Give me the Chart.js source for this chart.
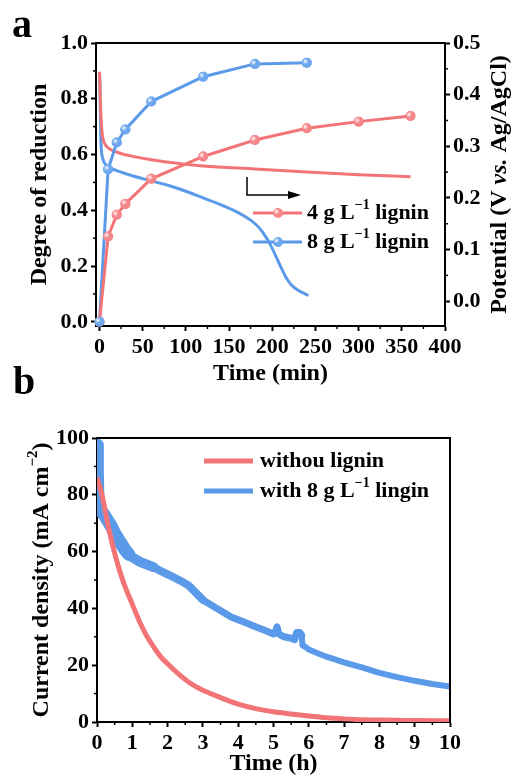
<!DOCTYPE html>
<html>
<head>
<meta charset="utf-8">
<script src="https://cdn.jsdelivr.net/npm/chart.js@4.4.0/dist/chart.umd.min.js"></script>
<style>
body { margin: 0; background: #fff; width: 512px; height: 778px; overflow: hidden; position: relative; }
canvas { position: absolute; left: 0; }
#chartA { top: 0; }
#chartB { top: 355px; }
</style>
</head>
<body>
<canvas id="chartA" width="512" height="390"></canvas>
<canvas id="chartB" width="512" height="423"></canvas>
<script>
// ---- Panel a: degree of reduction (left axis, markers) ----
const sampleTime4 = [0, 10, 20, 30, 60, 120, 180, 240, 300, 360];
const reduction4 = [0, 0.306, 0.384, 0.423, 0.513, 0.593, 0.652, 0.694, 0.718, 0.738];
const sampleTime8 = [0, 10, 20, 30, 60, 120, 180, 240];
const reduction8 = [0, 0.547, 0.643, 0.69, 0.79, 0.879, 0.925, 0.929];

// ---- Panel a: potential (right axis, plain lines) ----
const potTime4 = [0, 0.5, 1, 2, 3, 4, 6, 10, 15, 25, 40, 60, 90, 120, 180, 240, 300, 360];
const potential4 = [0.444, 0.42, 0.39, 0.35, 0.328, 0.315, 0.305, 0.297, 0.292, 0.286, 0.28, 0.274, 0.267, 0.262, 0.256, 0.25, 0.245, 0.241];
const potTime8 = [0, 0.5, 1, 1.5, 2.5, 4, 6, 10, 20, 40, 60, 80, 100, 120, 140, 160, 175, 185, 192, 198, 204, 210, 216, 222, 230, 242];
const potential8 = [0.444, 0.42, 0.37, 0.32, 0.288, 0.275, 0.267, 0.26, 0.253, 0.242, 0.233, 0.224, 0.213, 0.2, 0.187, 0.172, 0.157, 0.142, 0.126, 0.109, 0.088, 0.066, 0.046, 0.032, 0.021, 0.011];

const timeTicksMin = [0, 50, 100, 150, 200, 250, 300, 350, 400];
const reductionTicks = [0, 0.2, 0.4, 0.6, 0.8, 1.0];
const potentialTicks = [0, 0.1, 0.2, 0.3, 0.4, 0.5];

// ---- Panel b: current density ----
const curTimeNo = [0, 0.1, 0.2, 0.3, 0.4, 0.5, 0.6, 0.7, 0.8, 1.0, 1.2, 1.4, 1.6, 1.8, 2.0, 2.3, 2.6, 2.9, 3.5, 4.0, 4.5, 5.0, 5.5, 6.0, 6.5, 7.0, 7.5, 8.0, 8.5, 9.0, 10.0];
const currentNo = [86, 82, 76.5, 70, 64.5, 59.5, 55, 51, 47.5, 41.5, 35.5, 30.5, 26.5, 23, 20.5, 17, 14, 11.8, 8.6, 6.3, 4.7, 3.6, 2.8, 2.1, 1.5, 1.1, 0.8, 0.7, 0.6, 0.5, 0.4];
const curTimeLig = [0, 0.01, 0.03, 0.1, 0.2, 0.3, 0.4, 0.5, 0.6, 0.7, 0.8, 0.9, 1.0, 1.2, 1.4, 1.6, 1.8, 2.0, 2.2, 2.4, 2.6, 2.8, 3.0, 3.2, 3.4, 3.6, 3.8, 4.0, 4.2, 4.4, 4.6, 4.8, 5.0, 5.05, 5.1, 5.15, 5.3, 5.5, 5.6, 5.65, 5.75, 5.8, 5.82, 5.9, 6.0, 6.2, 6.5, 7.0, 7.5, 8.0, 8.5, 9.0, 9.5, 10.0];
const currentLig = [97.5, 88, 76, 74.5, 73, 71, 69, 66.5, 64.5, 62.5, 60.5, 59, 58, 56.5, 55.5, 54.5, 53.2, 52, 50.8, 49.5, 48, 45.5, 43, 41.5, 40, 38.5, 37, 36, 35, 34, 33, 32, 31, 31.5, 33.5, 31, 30, 29.5, 29, 31.5, 31.5, 30.5, 27, 26.5, 25.5, 24.5, 23, 21, 19.2, 17.3, 15.8, 14.5, 13.4, 12.5];

const timeTicksH = [0, 1, 2, 3, 4, 5, 6, 7, 8, 9, 10];
const currentTicks = [0, 20, 40, 60, 80, 100];

// ---- styling ----
const FONT = '"Liberation Serif", "Times New Roman", serif';
const RED = '#f27476';
const BLUE = '#5a9ae9';
const RED_PT = '#f5878a';
const BLUE_PT = '#6ea7ee';
const TICK_SIZE = 22;
const TITLE_SIZE = 24;
const LEGEND_SIZE = 22;

const pts = (xs, ys) => xs.map((x, i) => ({ x: x, y: ys[i] }));
const mids = arr => arr.slice(1).map((v, i) => (v + arr[i]) / 2);

function axis(opts) {
    return Object.assign({
        type: 'linear',
        grid: { drawOnChartArea: false, drawTicks: true, tickLength: 5, tickWidth: 2, tickColor: '#000' },
        border: { display: true, color: '#000', width: 2 },
        ticks: { color: '#000', padding: 3, font: { family: FONT, size: TICK_SIZE, weight: 'bold' } }
    }, opts);
}

// Bold serif text with italic parts and superscripts
function richText(ctx, parts, x, y, size, rotate, align) {
    const fontFor = k => (k === 'i' ? 'italic bold ' : 'bold ') +
        (k === 's' ? Math.round(size * 0.62) : size) + 'px ' + FONT;
    ctx.save();
    ctx.translate(x, y);
    if (rotate) ctx.rotate(rotate);
    let total = 0;
    parts.forEach(([t, k]) => { ctx.font = fontFor(k); total += ctx.measureText(t).width; });
    let cx = align === 'left' ? 0 : -total / 2;
    ctx.textBaseline = 'middle';
    ctx.textAlign = 'left';
    ctx.fillStyle = '#000';
    parts.forEach(([t, k]) => {
        ctx.font = fontFor(k);
        ctx.fillText(t, cx, k === 's' ? -size * 0.36 : 0);
        cx += ctx.measureText(t).width;
    });
    ctx.restore();
}

function ballMarker(ctx, x, y, r, fill) {
    ctx.save();
    ctx.fillStyle = fill;
    ctx.beginPath();
    ctx.arc(x, y, r, 0, Math.PI * 2);
    ctx.fill();
    const g = ctx.createRadialGradient(x - 1.5, y - 1.5, 0, x - 1.5, y - 1.5, 3);
    g.addColorStop(0, 'rgba(255,255,255,0.95)');
    g.addColorStop(1, 'rgba(255,255,255,0)');
    ctx.fillStyle = g;
    ctx.beginPath();
    ctx.arc(x, y, r, 0, Math.PI * 2);
    ctx.fill();
    ctx.restore();
}

// minor ticks, frame, marker highlights
const decor = {
    id: 'decor',
    afterDatasetsDraw(chart) {
        chart.data.datasets.forEach((ds, i) => {
            if (!ds.pointRadius) return;
            chart.getDatasetMeta(i).data.forEach(p => {
                ballMarker(chart.ctx, p.x, p.y, ds.pointRadius, ds.pointBackgroundColor);
            });
        });
    },
    afterDraw(chart, args, opts) {
        const ctx = chart.ctx;
        const ca = chart.chartArea;
        ctx.save();
        ctx.strokeStyle = '#000';
        ctx.lineWidth = 2;
        ctx.beginPath();
        ctx.moveTo(ca.left, ca.top);
        ctx.lineTo(ca.right, ca.top);
        ctx.lineTo(ca.right, ca.bottom);
        ctx.stroke();
        ctx.lineWidth = 1.5;
        (opts.minor || []).forEach(([id, values]) => {
            const s = chart.scales[id];
            values.forEach(v => {
                const p = s.getPixelForValue(v);
                ctx.beginPath();
                if (s.position === 'bottom') { ctx.moveTo(p, ca.bottom); ctx.lineTo(p, ca.bottom + 3); }
                else if (s.position === 'left') { ctx.moveTo(ca.left, p); ctx.lineTo(ca.left - 3, p); }
                else { ctx.moveTo(ca.right, p); ctx.lineTo(ca.right + 3, p); }
                ctx.stroke();
            });
        });
        ctx.restore();
        if (opts.extra) opts.extra(ctx, ca);
    }
};

// band width of the noisy current trace (thicker where the signal is noisier)
function noiseWidth(t) {
    if (t < 0.9) return 13;
    if (t < 1.6) return 10;
    if (t < 3.0) return 8;
    if (t < 5.8) return 7;
    return 6;
}

// ---- Chart a ----
new Chart(document.getElementById('chartA'), {
    type: 'line',
    data: {
        datasets: [
            { label: '4 g L−1 lignin', data: pts(sampleTime4, reduction4), yAxisID: 'y',
              borderColor: RED, borderWidth: 3, pointRadius: 5, pointBackgroundColor: RED_PT,
              pointBorderWidth: 0, tension: 0 },
            { label: '8 g L−1 lignin', data: pts(sampleTime8, reduction8), yAxisID: 'y',
              borderColor: BLUE, borderWidth: 3, pointRadius: 5, pointBackgroundColor: BLUE_PT,
              pointBorderWidth: 0, tension: 0 },
            { data: pts(potTime4, potential4), yAxisID: 'y2', borderColor: RED, borderWidth: 3,
              pointRadius: 0, cubicInterpolationMode: 'monotone' },
            { data: pts(potTime8, potential8), yAxisID: 'y2', borderColor: BLUE, borderWidth: 3,
              pointRadius: 0, cubicInterpolationMode: 'monotone' }
        ]
    },
    options: {
        responsive: false,
        animation: false,
        layout: { padding: { top: 43, left: 0, right: 0, bottom: 0 } },
        plugins: {
            legend: { display: false },
            tooltip: { enabled: false },
            decor: {
                minor: [['x', mids(timeTicksMin)], ['y', mids(reductionTicks)], ['y2', mids(potentialTicks)]],
                extra: (ctx, ca) => {
                    richText(ctx, [['a', '']], 22, 27, 40);
                    richText(ctx, [['Degree of reduction', '']], 40, (ca.top + ca.bottom) / 2, TITLE_SIZE, -Math.PI / 2);
                    richText(ctx, [['Potential (V ', ''], ['vs.', 'i'], [' Ag/AgCl)', '']], 500, (ca.top + ca.bottom) / 2, TITLE_SIZE, -Math.PI / 2);
                    richText(ctx, [['Time (min)', '']], (ca.left + ca.right) / 2, 374, TITLE_SIZE);
                    // arrow pointing to the right axis
                    ctx.save();
                    ctx.strokeStyle = '#000';
                    ctx.fillStyle = '#000';
                    ctx.lineWidth = 1.5;
                    ctx.beginPath();
                    ctx.moveTo(247, 177);
                    ctx.lineTo(247, 195);
                    ctx.lineTo(290, 195);
                    ctx.stroke();
                    ctx.beginPath();
                    ctx.moveTo(301, 195);
                    ctx.lineTo(288, 191);
                    ctx.lineTo(288, 199);
                    ctx.closePath();
                    ctx.fill();
                    // legend
                    [[RED, RED_PT, '4', 213], [BLUE, BLUE_PT, '8', 242]].forEach(([c, pc, n, y]) => {
                        ctx.strokeStyle = c;
                        ctx.lineWidth = 3;
                        ctx.beginPath();
                        ctx.moveTo(253, y);
                        ctx.lineTo(302, y);
                        ctx.stroke();
                        ballMarker(ctx, 278, y, 5, pc);
                        richText(ctx, [[n + ' g L', ''], ['−1', 's'], [' lignin', '']], 307, y, LEGEND_SIZE, 0, 'left');
                    });
                    ctx.restore();
                }
            }
        },
        scales: {
            x: axis({ position: 'bottom', min: -4, max: 400,
                afterBuildTicks: s => { s.ticks = timeTicksMin.map(v => ({ value: v })); },
                afterFit: s => { s.height = 64; } }),
            y: axis({ position: 'left', min: -0.015, max: 1.0,
                afterBuildTicks: s => { s.ticks = reductionTicks.map(v => ({ value: v })); },
                ticks: { color: '#000', padding: 3, font: { family: FONT, size: TICK_SIZE, weight: 'bold' }, callback: v => v.toFixed(1) },
                afterFit: s => { s.width = 96; } }),
            y2: axis({ position: 'right', min: -0.048, max: 0.5,
                afterBuildTicks: s => { s.ticks = potentialTicks.map(v => ({ value: v })); },
                ticks: { color: '#000', padding: 3, font: { family: FONT, size: TICK_SIZE, weight: 'bold' }, callback: v => v.toFixed(1) },
                afterFit: s => { s.width = 67; } })
        }
    },
    plugins: [decor]
});

// ---- Chart b ----
new Chart(document.getElementById('chartB'), {
    type: 'line',
    data: {
        datasets: [
            { label: 'withou lignin', data: pts(curTimeNo, currentNo), borderColor: RED, borderWidth: 5,
              pointRadius: 0, cubicInterpolationMode: 'monotone' },
            { label: 'with 8 g L−1 lingin', data: pts(curTimeLig, currentLig), borderColor: BLUE, borderWidth: 6,
              pointRadius: 0, tension: 0, borderCapStyle: 'round', borderJoinStyle: 'round',
              segment: { borderWidth: c => noiseWidth(c.p0.parsed.x) } }
        ]
    },
    options: {
        responsive: false,
        animation: false,
        layout: { padding: { top: 83, left: 0, right: 62, bottom: 0 } },
        plugins: {
            legend: { display: false },
            tooltip: { enabled: false },
            decor: {
                minor: [['x', mids(timeTicksH)], ['y', mids(currentTicks)]],
                extra: (ctx, ca) => {
                    richText(ctx, [['b', '']], 24, 29, 40);
                    richText(ctx, [['Current density (mA cm', ''], ['−2', 's'], [')', '']], 42, (ca.top + ca.bottom) / 2, TITLE_SIZE, -Math.PI / 2);
                    richText(ctx, [['Time (h)', '']], (ca.left + ca.right) / 2, 409, TITLE_SIZE);
                    ctx.save();
                    [[RED, 106, [['withou lignin', '']]], [BLUE, 136, [['with 8 g L', ''], ['−1', 's'], [' lingin', '']]]].forEach(([c, y, parts]) => {
                        ctx.strokeStyle = c;
                        ctx.lineWidth = 5;
                        ctx.beginPath();
                        ctx.moveTo(204, y);
                        ctx.lineTo(253, y);
                        ctx.stroke();
                        richText(ctx, parts, 260, y, LEGEND_SIZE, 0, 'left');
                    });
                    ctx.restore();
                }
            }
        },
        scales: {
            x: axis({ position: 'bottom', min: 0, max: 10,
                afterBuildTicks: s => { s.ticks = timeTicksH.map(v => ({ value: v })); },
                afterFit: s => { s.height = 56; } }),
            y: axis({ position: 'left', min: 0, max: 100,
                afterBuildTicks: s => { s.ticks = currentTicks.map(v => ({ value: v })); },
                afterFit: s => { s.width = 97; } })
        }
    },
    plugins: [decor]
});
</script>
</body>
</html>
